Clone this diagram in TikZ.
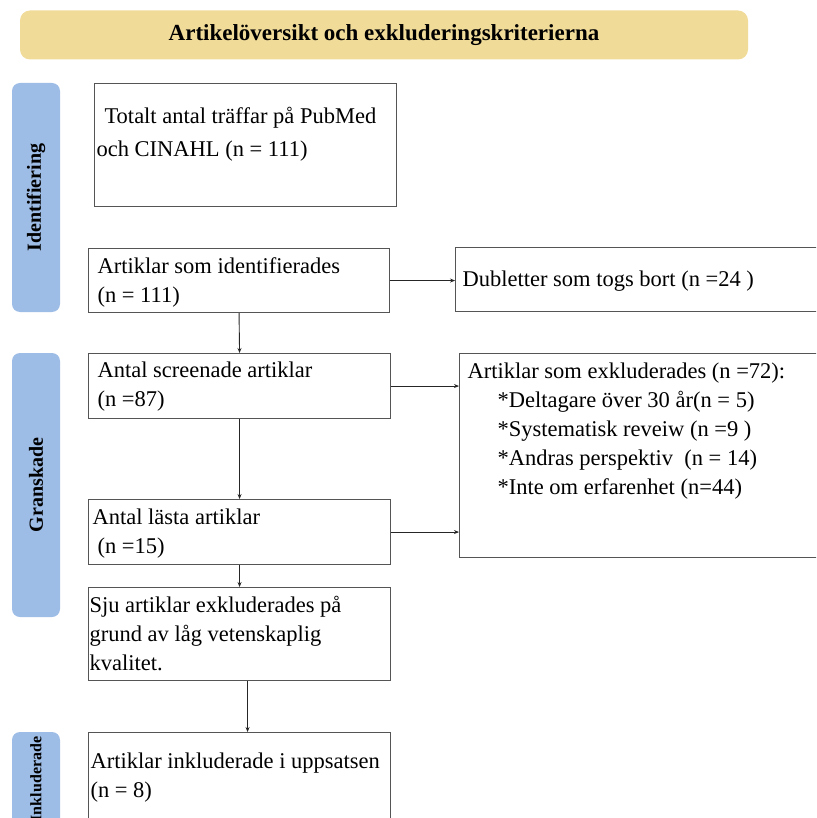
\documentclass[tikz,border=0pt]{standalone}
\usepackage{fontspec}
\setmainfont{Liberation Serif}
\usepackage{xcolor}
\usetikzlibrary{arrows.meta}

\definecolor{rubrikgul}{RGB}{241,219,152}
\definecolor{fasbla}{RGB}{157,188,230}
\definecolor{kantgra}{RGB}{85,85,85}

% text block of a box: width, height, first baseline below top, text
\newcommand{\rutatext}[4]{\parbox[c][#2][t]{#1}{\raggedright\rule{0pt}{#3}#4}}

\begin{document}
\begin{tikzpicture}[
        x=1pt, y=-1pt,
        ruta/.style={draw=kantgra, line width=1.1pt, anchor=north west, inner ysep=0pt,
            font=\fontsize{22.5pt}{29pt}\selectfont},
        fas/.style={fill=fasbla, rounded corners=8pt, rotate=90, minimum height=48pt,
            inner sep=0pt, font=\bfseries\fontsize{20pt}{24pt}\selectfont},
        pil/.style={draw=black!85, line width=0.9pt, -{Stealth[length=5pt, width=4pt]}}
    ]
    \useasboundingbox (0,0) rectangle (816,818);
    \clip (0,0) rectangle (816,818);

    % rubrik
    \node[fill=rubrikgul, rounded corners=10pt, minimum width=728pt, minimum height=49pt,
        font=\bfseries\fontsize{23pt}{28pt}\selectfont] (rubrik) at (384,35) {Artikelöversikt och exkluderingskriterierna};

    % faser
    \node[fas, minimum width=229pt] (identifiering) at (36,197.5) {Identifiering};
    \node[fas, minimum width=264pt] (granskade) at (36,485) {Granskade};
    \node[fas, minimum width=94pt, font=\bfseries\fontsize{16pt}{20pt}\selectfont] (inkluderade) at (36,779) {Inkluderade};

    % rutor
    \node[ruta, inner xsep=2pt] (traffar) at (94,83) {\rutatext{298pt}{123pt}{40pt}{\hspace*{8pt}Totalt antal träffar på PubMed\\[4pt]och CINAHL (n = 111)}};
    \node[ruta, inner xsep=9pt] (identifierade) at (88,248) {\rutatext{283pt}{64pt}{25pt}{Artiklar som identifierades\\(n = 111)}};
    \node[ruta, inner xsep=7pt] (dubletter) at (455,247) {\rutatext{361pt}{64pt}{39pt}{Dubletter som togs bort (n =24 )}};
    \node[ruta, inner xsep=9pt] (screenade) at (88,353) {\rutatext{284pt}{65pt}{24pt}{Antal screenade artiklar\\(n =87)}};
    \node[ruta, inner xsep=8pt] (exkluderade) at (459,353) {\rutatext{355pt}{204pt}{25pt}{Artiklar som exkluderades (n =72):\\
        \hspace*{30pt}*Deltagare över 30 år(n = 5)\\
        \hspace*{30pt}*Systematisk reveiw (n =9 )\\
        \hspace*{30pt}*Andras perspektiv\ \ (n = 14)\\
        \hspace*{30pt}*Inte om erfarenhet (n=44)}};
    \node[ruta, inner xsep=4pt] (lasta) at (88,499) {\rutatext{294pt}{65pt}{25pt}{Antal lästa artiklar\\\hspace*{5pt}(n =15)}};
    \node[ruta, inner xsep=1pt] (kvalitet) at (88,587) {\rutatext{300pt}{93pt}{25pt}{Sju artiklar exkluderades på\\grund av låg vetenskaplig\\kvalitet.}};
    \node[ruta, inner xsep=2pt] (inkluderat) at (88,732) {\rutatext{298pt}{110pt}{36pt}{Artiklar inkluderade i uppsatsen\\(n = 8)}};

    % pilar
    \draw[pil] (identifierade.south) -- (screenade.north);
    \draw[pil] (screenade.south) -- (lasta.north);
    \draw[pil] (lasta.south) -- (kvalitet.north);
    \draw[pil] ([xshift=8pt]kvalitet.south) -- ([xshift=8pt]inkluderat.north);
    \draw[pil] (identifierade.east) -- (identifierade.east -| dubletter.west);
    \draw[pil] (screenade.east) -- (screenade.east -| exkluderade.west);
    \draw[pil] (lasta.east) -- (lasta.east -| exkluderade.west);
\end{tikzpicture}
\end{document}
